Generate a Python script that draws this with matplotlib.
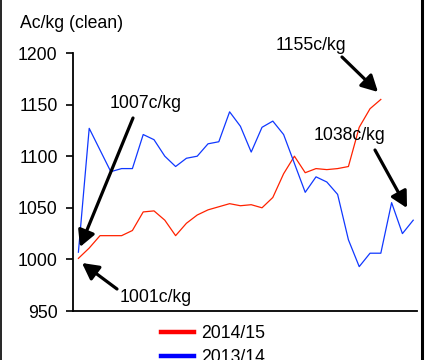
import matplotlib
matplotlib.use('Agg')
from matplotlib import pyplot as plt
from matplotlib.lines import Line2D

plt.rcParams['font.family'] = ['Liberation Sans', 'DejaVu Sans']

# wool price, c/kg clean, by sale week
season_1415 = [1001, 1011, 1023, 1023, 1023, 1028, 1046, 1047, 1038, 1023,
               1035, 1043, 1048, 1051, 1054, 1052, 1053, 1050, 1060, 1083,
               1100, 1084, 1088, 1087, 1088, 1090, 1128, 1146, 1155]
season_1314 = [1007, 1127, 1106, 1085, 1088, 1088, 1121, 1116, 1100, 1090,
               1098, 1100, 1112, 1114, 1143, 1129, 1104, 1128, 1134, 1121,
               1093, 1065, 1080, 1075, 1063, 1019, 993, 1006, 1006, 1055,
               1025, 1038]
series_labels = ['2014/15', '2013/14']
yticks = [950, 1000, 1050, 1100, 1150, 1200]
callouts = ['1007c/kg', '1001c/kg', '1155c/kg', '1038c/kg']

RED = '#ff2200'
BLUE = '#1038ff'
FS = 12.7

fig = plt.figure(figsize=(4.27, 3.6), dpi=100)
ax = fig.add_axes([73/427, 49/360, 344/427, 258/360])

ax.plot(range(len(season_1415)), season_1415, color=RED, lw=0.9)
ax.plot(range(len(season_1314)), season_1314, color=BLUE, lw=0.9)

ax.set_xlim(-0.5, 31.35)
ax.set_ylim(950, 1200)
ax.set_yticks(yticks)
ax.set_xticks([])
ax.tick_params(axis='y', labelsize=FS, length=5, width=1.2, pad=6)
for s in ['top', 'right']:
  ax.spines[s].set_visible(False)
ax.spines['left'].set_linewidth(1.3)
ax.spines['bottom'].set_linewidth(1.3)

fig.text(20/427, 1 - 23/360, 'Ac/kg (clean)', fontsize=FS, ha='left', va='center')

# callouts: text centre, arrow tail, arrow head (figure pixels)
spots = [((146, 257), (133, 242), (80, 113)),
         ((156, 63), (117, 71), (82, 97)),
         ((311, 315), (342, 303), (378, 268)),
         ((350, 225), (375, 210), (407, 152))]
for label, (txt, tail, head) in zip(callouts, spots):
  fig.text(txt[0]/427, txt[1]/360, label, fontsize=FS, ha='center', va='center')
  ax.annotate('', xy=head, xycoords='figure pixels', xytext=tail,
              textcoords='figure pixels',
              arrowprops=dict(arrowstyle='-|>,head_length=0.75,head_width=0.4',
                              lw=2.3, color='black', mutation_scale=13,
                              shrinkA=0, shrinkB=0))

handles = [Line2D([], [], color='red', lw=3.2), Line2D([], [], color='blue', lw=3.2)]
fig.legend(handles, series_labels, loc='upper left', bbox_to_anchor=(161/427, 1 - 325/360),
           frameon=False, fontsize=FS, handlelength=1.85, handletextpad=0.4,
           labelspacing=0.4, borderaxespad=0, borderpad=0)

# frame edges of the original graphic
fig.add_artist(Line2D([0.5/427, 0.5/427], [0, 1], color='black', lw=1.2))
fig.add_artist(Line2D([422.5/427, 422.5/427], [0, 1], color='black', lw=2.2))

fig.savefig('out.png', dpi=100)
